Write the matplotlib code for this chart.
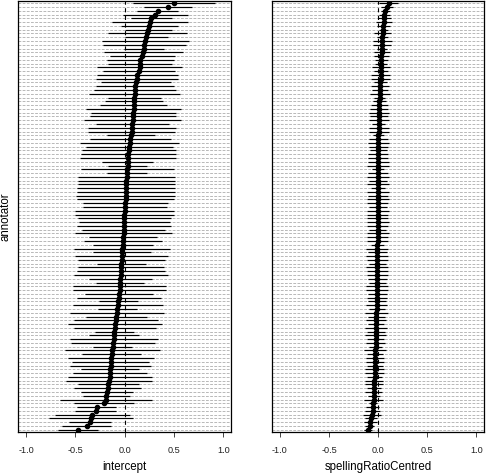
import numpy as np
import matplotlib.pyplot as plt

plt.rcParams['font.family'] = ['Liberation Sans', 'DejaVu Sans']
plt.rcParams['lines.scale_dashes'] = False

# random effects for annotator, listed from top row to bottom row
intercept_est = [0.50, 0.44, 0.335, 0.31, 0.27, 0.26, 0.25, 0.24, 0.23, 0.22,
                 0.21, 0.20, 0.196, 0.186, 0.18, 0.16, 0.155, 0.152, 0.149, 0.129,
                 0.122, 0.115, 0.108, 0.105, 0.10, 0.098, 0.095, 0.091, 0.091, 0.088,
                 0.085, 0.081, 0.078, 0.074, 0.071, 0.064, 0.058, 0.051, 0.047, 0.044,
                 0.037, 0.034, 0.030, 0.030, 0.027, 0.024, 0.020, 0.017, 0.017, 0.014,
                 0.014, 0.010, 0.010, 0.007, 0.003, 0.0, -0.003, -0.003, -0.003, -0.007,
                 -0.01, -0.01, -0.014, -0.017, -0.02, -0.024, -0.027, -0.03, -0.03, -0.034,
                 -0.037, -0.037, -0.04, -0.044, -0.047, -0.05, -0.05, -0.054, -0.057, -0.064,
                 -0.068, -0.074, -0.078, -0.085, -0.091, -0.095, -0.098, -0.105, -0.108, -0.112,
                 -0.118, -0.122, -0.125, -0.132, -0.139, -0.142, -0.142, -0.146, -0.149, -0.152,
                 -0.156, -0.166, -0.173, -0.18, -0.186, -0.193, -0.206, -0.284, -0.294, -0.328,
                 -0.345, -0.355, -0.386, -0.474]
intercept_hw = [0.416, 0.247, 0.206, 0.33, 0.21, 0.386, 0.29, 0.24, 0.40, 0.22,
                0.44, 0.42, 0.20, 0.40, 0.33, 0.34, 0.325, 0.43, 0.365, 0.41,
                0.416, 0.355, 0.396, 0.42, 0.46, 0.27, 0.29, 0.34, 0.48, 0.43,
                0.44, 0.49, 0.37, 0.45, 0.44, 0.24, 0.41, 0.50, 0.44, 0.477,
                0.48, 0.49, 0.26, 0.20, 0.47, 0.20, 0.49, 0.49, 0.49, 0.50,
                0.50, 0.50, 0.49, 0.43, 0.43, 0.50, 0.50, 0.47, 0.46, 0.48,
                0.42, 0.49, 0.345, 0.40, 0.305, 0.487, 0.29, 0.47, 0.44, 0.25,
                0.437, 0.45, 0.477, 0.32, 0.245, 0.47, 0.47, 0.345, 0.426, 0.20,
                0.457, 0.198, 0.48, 0.31, 0.426, 0.477, 0.42, 0.20, 0.254, 0.447,
                0.43, 0.20, 0.48, 0.30, 0.437, 0.39, 0.41, 0.294, 0.376, 0.426,
                0.437, 0.31, 0.34, 0.264, 0.237, 0.467, 0.305, 0.198, 0.208, 0.379,
                0.426, 0.213, 0.249, 0.203]

spelling_est = [0.108, 0.094, 0.074, 0.064, 0.061, 0.057, 0.054, 0.05, 0.047, 0.044,
                0.044, 0.04, 0.04, 0.037, 0.034, 0.034, 0.03, 0.03, 0.027, 0.027,
                0.024, 0.022, 0.02, 0.019, 0.017, 0.015, 0.013, 0.012, 0.01, 0.01,
                0.009, 0.007, 0.007, 0.006, 0.006, 0.003, 0.003, 0.003, 0.002, 0.001,
                0.0, 0.0, -0.001, -0.001, -0.001, -0.002, -0.002, -0.002, -0.003, -0.003,
                -0.003, -0.003, -0.004, -0.004, -0.004, -0.004, -0.005, -0.005, -0.005, -0.005,
                -0.006, -0.006, -0.006, -0.006, -0.007, -0.007, -0.007, -0.007, -0.007, -0.008,
                -0.008, -0.008, -0.008, -0.008, -0.009, -0.009, -0.009, -0.009, -0.010, -0.01,
                -0.013, -0.013, -0.017, -0.017, -0.02, -0.02, -0.02, -0.024, -0.024, -0.027,
                -0.027, -0.027, -0.03, -0.03, -0.034, -0.034, -0.034, -0.037, -0.037, -0.037,
                -0.04, -0.04, -0.04, -0.044, -0.044, -0.047, -0.05, -0.054, -0.057, -0.064,
                -0.071, -0.078, -0.084, -0.10]
spelling_hw = [0.096, 0.061, 0.047, 0.057, 0.067, 0.084, 0.069, 0.046, 0.086, 0.054,
               0.101, 0.093, 0.049, 0.084, 0.076, 0.067, 0.064, 0.094, 0.074, 0.096,
               0.094, 0.066, 0.094, 0.083, 0.105, 0.057, 0.067, 0.088, 0.094, 0.101,
               0.094, 0.105, 0.067, 0.1, 0.1, 0.059, 0.094, 0.11, 0.1, 0.088,
               0.105, 0.1, 0.107, 0.11, 0.06, 0.1, 0.112, 0.095, 0.11, 0.07,
               0.112, 0.105, 0.11, 0.108, 0.09, 0.112, 0.11, 0.105, 0.112, 0.11,
               0.085, 0.112, 0.105, 0.11, 0.07, 0.112, 0.1, 0.112, 0.108, 0.09,
               0.112, 0.105, 0.11, 0.1, 0.085, 0.11, 0.112, 0.095, 0.105, 0.093,
               0.106, 0.084, 0.116, 0.089, 0.101, 0.084, 0.11, 0.094, 0.105, 0.086,
               0.101, 0.067, 0.11, 0.084, 0.089, 0.091, 0.081, 0.094, 0.093, 0.078,
               0.089, 0.094, 0.073, 0.088, 0.064, 0.096, 0.039, 0.067, 0.073, 0.094,
               0.059, 0.069, 0.046, 0.039]

panels = [(intercept_est, intercept_hw, 'intercept'),
          (spelling_est, spelling_hw, 'spellingRatioCentred')]
xticks = [-1.0, -0.5, 0.0, 0.5, 1.0]
xlim = (-1.077, 1.077)

fig = plt.figure(figsize=(4.86, 4.74), dpi=100)
boxes = [[0.038, 0.0886, 0.4372, 0.9094],
         [0.5603, 0.0886, 0.4356, 0.9094]]

for box, (est, hw, label) in zip(boxes, panels):
    ax = fig.add_axes(box)
    est = np.array(est)
    hw = np.array(hw)
    n = len(est)
    y = np.arange(n, 0, -1)

    # gray guide line for every annotator
    ax.hlines(y, xlim[0], xlim[1], colors='#b8b8b8', lw=0.7,
              linestyles=[(0, (2.0, 1.0))], zorder=1)
    ax.axvline(0, color='black', lw=0.8, ls=(0, (3.0, 2.5)), zorder=2)
    ax.hlines(y, est - hw, est + hw, colors='black', lw=0.85, zorder=3)
    ax.plot(est, y, 'o', color='black', ms=3.0, zorder=4)

    ax.set_xlim(xlim)
    ax.set_ylim(0.4, n + 0.6)
    ax.set_yticks([])
    ax.set_xticks(xticks)
    ax.set_xticklabels(['%.1f' % t for t in xticks])
    ax.tick_params(axis='x', length=3.3, width=0.7, pad=7, labelsize=6.6,
                   color='#444444', labelcolor='#222222')
    ax.set_xlabel(label, fontsize=8.3, labelpad=4)
    for s in ax.spines.values():
        s.set_linewidth(0.9)
    if label == 'intercept':
        ax.set_ylabel('annotator', fontsize=8.3, labelpad=5)

fig.savefig('out.png', dpi=100)
